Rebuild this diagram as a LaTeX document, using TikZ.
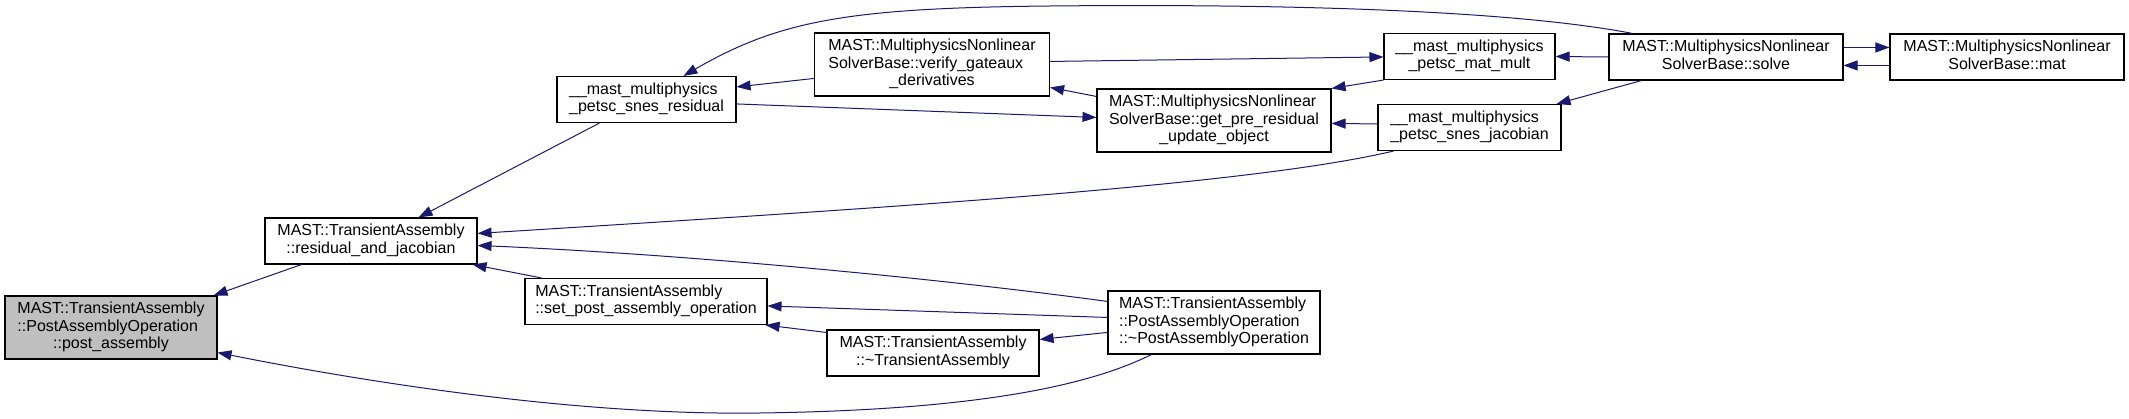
\documentclass[tikz,border=0pt]{standalone}
\usepackage{fontspec}
\setmainfont{Liberation Sans}
\usetikzlibrary{arrows.meta}
\definecolor{edgeblue}{HTML}{191970}
\definecolor{hilite}{HTML}{BFBFBF}
\newcommand{\fnlabel}[2]{\begin{tabular}{@{}l@{}}#1\\\multicolumn{1}{@{}c@{}}{#2}\end{tabular}}

\begin{document}
\begin{tikzpicture}[x=1pt,y=-1pt,
  fn/.style={draw=black,fill=white,line width=1.1pt,inner sep=0pt,font=\fontsize{16}{17.7}\selectfont},
  two/.style={minimum height=46pt},
  three/.style={minimum height=63pt},
  call/.style={draw=edgeblue,line width=1pt,-{Triangle[length=14pt,width=10pt]}}]
\useasboundingbox (0,0) rectangle (2129,419);
\node[fn,three,fill=hilite,minimum width=212pt] (post) at (111,327.5) {\fnlabel{MAST::TransientAssembly\\::PostAssemblyOperation}{::post\_assembly}};
\node[fn,two,minimum width=212pt] (resjac) at (371,241) {\fnlabel{MAST::TransientAssembly}{::residual\_and\_jacobian}};
\node[fn,two,minimum width=179pt] (snesres) at (646.5,99.5) {\fnlabel{\_\_mast\_multiphysics}{\_petsc\_snes\_residual}};
\node[fn,two,minimum width=242pt] (setpost) at (646,301.5) {\fnlabel{MAST::TransientAssembly}{::set\_post\_assembly\_operation}};
\node[fn,three,minimum width=235pt] (verify) at (932,64.5) {\fnlabel{MAST::MultiphysicsNonlinear\\SolverBase::verify\_gateaux}{\_derivatives}};
\node[fn,two,minimum width=212pt] (dtor) at (933,353) {\fnlabel{MAST::TransientAssembly}{::\textasciitilde TransientAssembly}};
\node[fn,three,minimum width=234pt] (prers) at (1214,120.5) {\fnlabel{MAST::MultiphysicsNonlinear\\SolverBase::get\_pre\_residual}{\_update\_object}};
\node[fn,three,minimum width=212pt] (padtor) at (1214,322.5) {\fnlabel{MAST::TransientAssembly\\::PostAssemblyOperation}{::\textasciitilde PostAssemblyOperation}};
\node[fn,two,minimum width=171pt] (matmult) at (1469.5,56.5) {\fnlabel{\_\_mast\_multiphysics}{\_petsc\_mat\_mult}};
\node[fn,two,minimum width=183pt] (snesjac) at (1469.5,127.5) {\fnlabel{\_\_mast\_multiphysics}{\_petsc\_snes\_jacobian}};
\node[fn,two,minimum width=234pt] (solve) at (1726,57) {\fnlabel{MAST::MultiphysicsNonlinear}{SolverBase::solve}};
\node[fn,two,minimum width=234pt] (mat) at (2007,57) {\fnlabel{MAST::MultiphysicsNonlinear}{SolverBase::mat}};
% callers
\draw[call] ([xshift=37pt]resjac.south west) -- ([xshift=-4pt]post.north east);
\draw[call] ([xshift=44pt]padtor.south west) .. controls (1090,385) and (980,410) .. (760,413) .. controls (560,416) and (330,375) .. ([yshift=7pt]post.south east);
\draw[call] ([xshift=43pt]snesres.south west) -- ([xshift=-59pt]resjac.north east);
\draw[call] ([xshift=16pt]snesjac.south west) .. controls (1250,185) and (900,207) .. ([yshift=-16pt]resjac.north east);
\draw[call] ([yshift=-11pt]padtor.north west) .. controls (950,280) and (700,255) .. ([yshift=-28pt]resjac.north east);
\draw[call] ([xshift=17pt]setpost.north west) -- ([xshift=-5pt]resjac.south east);
\draw[call] ([yshift=-27pt]padtor.north west) -- ([yshift=-28pt]setpost.north east);
\draw[call] ([yshift=-3pt]dtor.north west) -- ([xshift=-2pt]setpost.south east);
\draw[call] ([yshift=-42pt]padtor.north west) -- ([yshift=-10pt]dtor.north east);
\draw[call] ([yshift=-46pt]verify.north west) -- ([yshift=-11pt]snesres.north east);
\draw[call] ([xshift=24pt]solve.north west) .. controls (1500,8) and (1250,4) .. (1050,6) .. controls (850,8) and (780,20) .. ([xshift=127pt]snesres.north west);
\draw[call] ([yshift=-28pt]snesres.north east) -- ([yshift=-29pt]prers.north west);
\draw[call] ([yshift=-29pt]verify.north east) -- ([yshift=-24pt]matmult.north west);
\draw[call] ([yshift=-8pt]prers.north west) -- ([yshift=-55pt]verify.north east);
\draw[call] (matmult.south west) -- (prers.north east);
\draw[call] ([yshift=-20pt]snesjac.north west) -- ([yshift=-35pt]prers.north east);
\draw[call] (solve.west) -- (matmult.east);
\draw[call] ([xshift=33pt]solve.south west) -- ([xshift=-5pt]snesjac.north east);
\draw[call] ([yshift=-14pt]solve.north east) -- ([yshift=-14pt]mat.north west);
\draw[call] ([yshift=-32pt]mat.north west) -- ([yshift=-32pt]solve.north east);
\end{tikzpicture}
\end{document}
